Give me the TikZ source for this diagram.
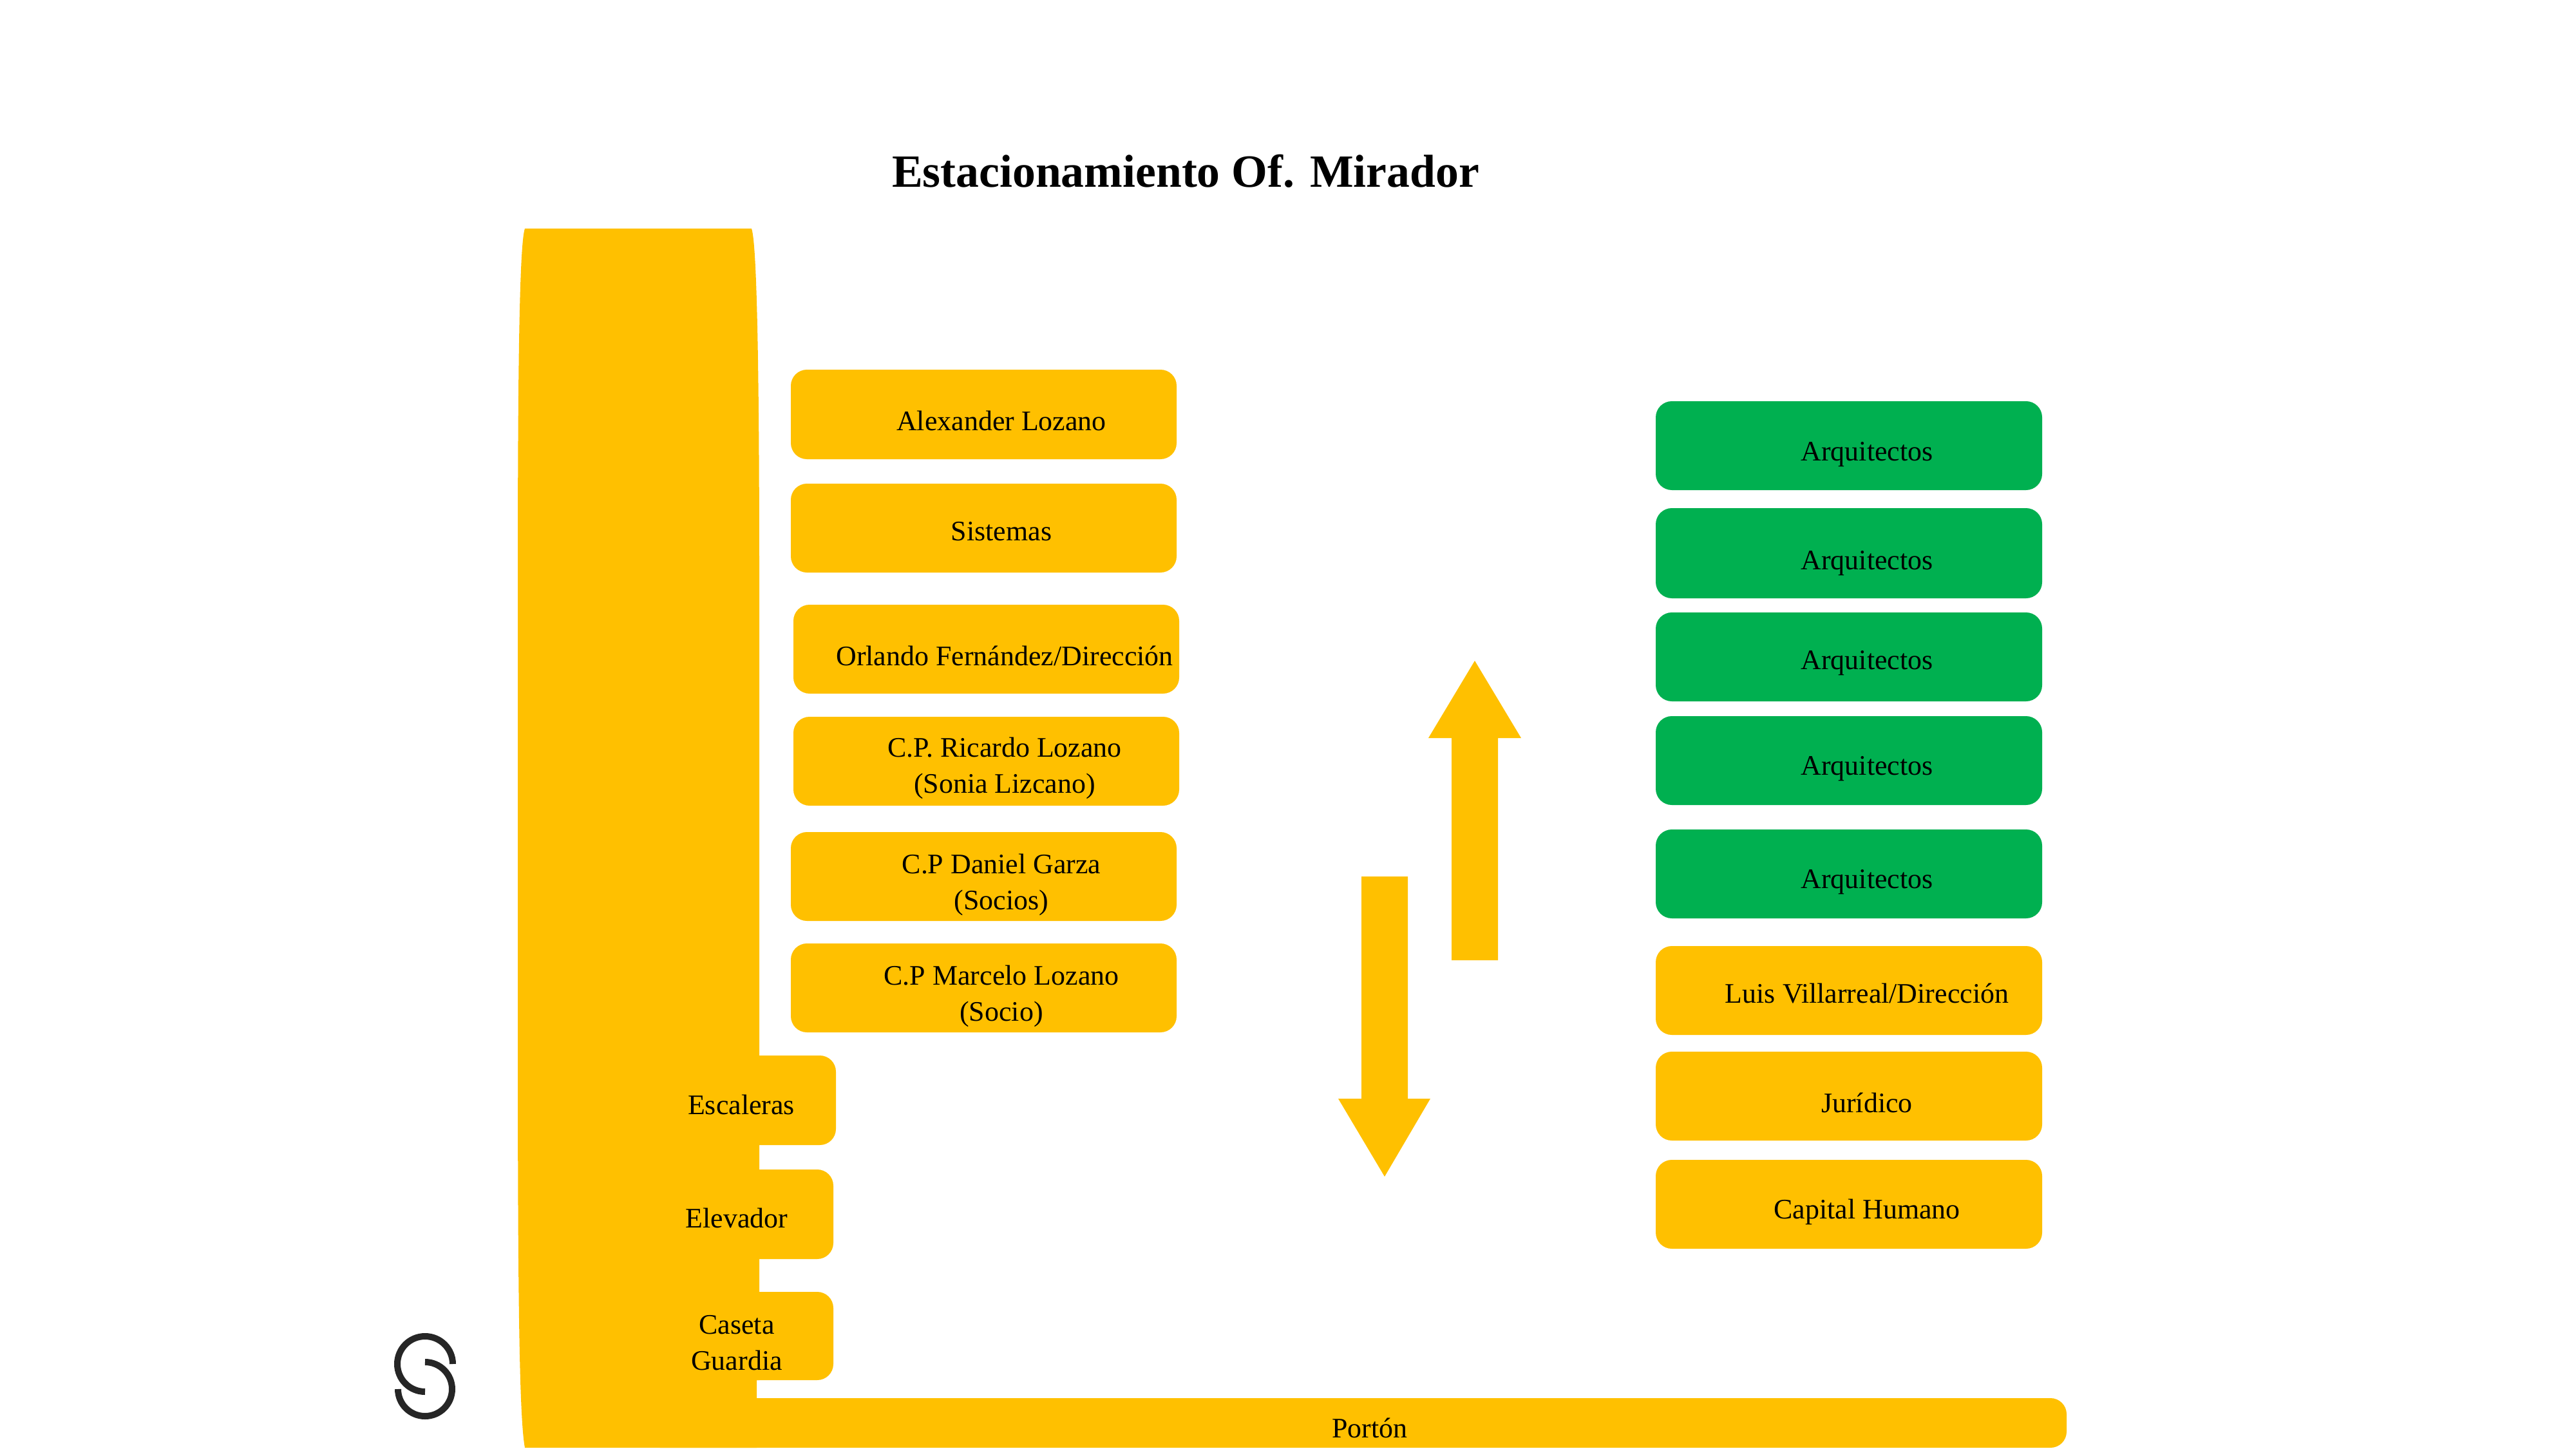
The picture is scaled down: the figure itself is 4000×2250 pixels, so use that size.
\documentclass[tikz,border=0pt]{standalone}
\usepackage{fontspec}
\setmainfont{Liberation Serif}
\definecolor{amberbar}{HTML}{FFC000}
\definecolor{greenbox}{HTML}{00B050}
\definecolor{logodark}{HTML}{262626}
\tikzset{
    slotamber/.style={fill=amberbar,rounded corners=0.25cm},
    slotgreen/.style={fill=greenbox,rounded corners=0.25cm},
    slottext/.style={align=center,font=\fontsize{12.5}{15.8}\selectfont,inner sep=0pt},
    logoarc/.style={draw=logodark,line width=0.1cm}
}
\begin{document}
\begin{tikzpicture}[x=0.1mm,y=-0.1mm]
        \useasboundingbox (0,0) rectangle (4000,2250);
        \node[font=\fontsize{20.4}{24}\selectfont\bfseries,inner sep=0pt] (title) at (1841,266) {Estacionamiento Of. Mirador};
        \fill[amberbar] (815,355) -- (1167,355) .. controls (1176,380) and (1179,600) .. (1179,900) -- (1179,2143) -- (1175,2143) -- (1175,2248) -- (815,2248) .. controls (806,2200) and (804,2000) .. (804,1600) -- (804,900) .. controls (804,600) and (806,380) .. (815,355) -- cycle;
        \fill[slotamber] (1000,2171) rectangle (3209,2248);
        \fill[slotamber] (1100,1639) rectangle (1298,1778);
        \fill[slotamber] (1100,1816) rectangle (1294,1955);
        \fill[slotamber] (1100,2006) rectangle (1294,2143);
        \fill[slotamber] (1228,574) rectangle (1827,713);
        \fill[slotamber] (1228,751) rectangle (1827,889);
        \fill[slotamber] (1232,939) rectangle (1831,1077);
        \fill[slotamber] (1232,1113) rectangle (1831,1251);
        \fill[slotamber] (1228,1292) rectangle (1827,1430);
        \fill[slotamber] (1228,1465) rectangle (1827,1603);
        \fill[slotgreen] (2571,623) rectangle (3171,761);
        \fill[slotgreen] (2571,789) rectangle (3171,929);
        \fill[slotgreen] (2571,951) rectangle (3171,1089);
        \fill[slotgreen] (2571,1112) rectangle (3171,1250);
        \fill[slotgreen] (2571,1288) rectangle (3171,1426);
        \fill[slotamber] (2571,1469) rectangle (3171,1607);
        \fill[slotamber] (2571,1633) rectangle (3171,1771);
        \fill[slotamber] (2571,1801) rectangle (3171,1939);
        \fill[amberbar] (2290,1026) -- (2362,1146) -- (2326,1146) -- (2326,1491) -- (2254,1491) -- (2254,1146) -- (2218,1146) -- cycle;
        \fill[amberbar] (2150,1827) -- (2221,1706) -- (2186,1706) -- (2186,1361) -- (2114,1361) -- (2114,1706) -- (2078,1706) -- cycle;
        \node[slottext] (alexander) at (1555,653) {Alexander Lozano};
        \node[slottext] (sistemas) at (1555,825) {Sistemas};
        \node[slottext] (orlando) at (1560,1018) {Orlando Fernández/Dirección};
        \node[slottext] (ricardo) at (1560,1193) {C.P. Ricardo Lozano\\(Sonia Lizcano)};
        \node[slottext] (daniel) at (1555,1374) {C.P Daniel Garza\\(Socios)};
        \node[slottext] (marcelo) at (1555,1547) {C.P Marcelo Lozano\\(Socio)};
        \node[slottext] (escaleras) at (1151,1715) {Escaleras};
        \node[slottext] (elevador) at (1144,1891) {Elevador};
        \node[slottext] (caseta) at (1144,2085) {Caseta\\Guardia};
        \node[slottext] (arqa) at (2899,706) {Arquitectos};
        \node[slottext] (arqb) at (2899,875) {Arquitectos};
        \node[slottext] (arqc) at (2899,1030) {Arquitectos};
        \node[slottext] (arqd) at (2899,1194) {Arquitectos};
        \node[slottext] (arqe) at (2899,1370) {Arquitectos};
        \node[slottext] (luis) at (2899,1543) {Luis Villarreal/Dirección};
        \node[slottext] (juridico) at (2899,1712) {Jurídico};
        \node[slottext] (capital) at (2899,1882) {Capital Humano};
        \node[slottext] (porton) at (2127,2217) {Portón};
        \draw[logoarc] (703,2118) arc[start angle=0,end angle=-270,radius=43];
        \draw[logoarc] (660,2115) arc[start angle=-90,end angle=180,radius=42];
    \end{tikzpicture}
\end{document}
